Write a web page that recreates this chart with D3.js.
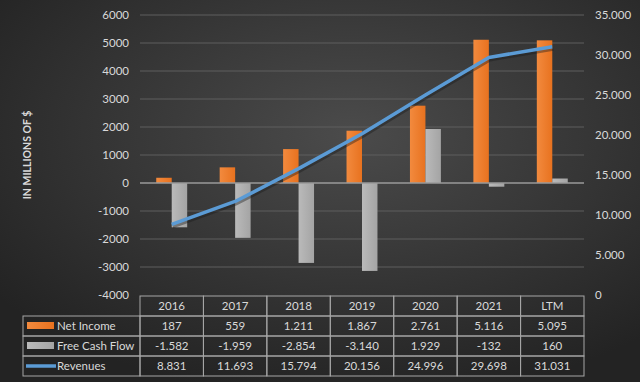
<!DOCTYPE html>
<html>
<head>
<meta charset="utf-8">
<script src="https://cdn.jsdelivr.net/npm/d3@7"></script>
<style>
  body { margin: 0; background: #2a2a2a; }
  svg text { font-family: Lato, "Open Sans", sans-serif; fill: #d9d9d9; }
</style>
</head>
<body>
<script>
// chart values
var years = ["2016", "2017", "2018", "2019", "2020", "2021", "LTM"];
var netIncome = [187, 559, 1211, 1867, 2761, 5116, 5095];
var freeCashFlow = [-1582, -1959, -2854, -3140, 1929, -132, 160];
var revenues = [8831, 11693, 15794, 20156, 24996, 29698, 31031];
var leftTicks = [-4000, -3000, -2000, -1000, 0, 1000, 2000, 3000, 4000, 5000, 6000];
var rightTicks = [0, 5000, 10000, 15000, 20000, 25000, 30000, 35000];
var seriesNames = ["Net Income", "Free Cash Flow", "Revenues"];

var width = 640, height = 382;
var plotLeft = 140, plotRight = 584, plotTop = 15, plotBottom = 295;
var rowH = 20;

var svg = d3.select("body").append("svg")
    .attr("width", width)
    .attr("height", height);

// background: dark radial gradient like the excel chart
var defs = svg.append("defs");
var bg = defs.append("radialGradient").attr("id", "bg")
    .attr("cx", "55%").attr("cy", "35%").attr("r", "70%");
bg.append("stop").attr("offset", "0%").attr("stop-color", "#4b4b4b");
bg.append("stop").attr("offset", "100%").attr("stop-color", "#232323");

var og = defs.append("linearGradient").attr("id", "orange").attr("x1", 0).attr("x2", 1);
og.append("stop").attr("offset", "0%").attr("stop-color", "#f28a3e");
og.append("stop").attr("offset", "100%").attr("stop-color", "#e8721f");
var gg = defs.append("linearGradient").attr("id", "grey").attr("x1", 0).attr("x2", 1);
gg.append("stop").attr("offset", "0%").attr("stop-color", "#bababa");
gg.append("stop").attr("offset", "100%").attr("stop-color", "#a4a4a4");

svg.append("rect").attr("width", width).attr("height", height).attr("fill", "url(#bg)");

// scales
var x = d3.scaleBand().domain(years).range([plotLeft, plotRight]);
var x1 = d3.scaleBand().domain(["ni", "fcf"]).range([0, x.bandwidth()]).paddingOuter(1.05);
var y = d3.scaleLinear().domain([-4000, 6000]).range([plotBottom, plotTop]);
var y2 = d3.scaleLinear().domain([0, 35000]).range([plotBottom, plotTop]);

// number formats: dot thousands separator, plain hyphen minus
var locale = d3.formatLocale({ decimal: ",", thousands: ".", grouping: [3], currency: ["", ""], minus: "-" });
var fmtLeft = locale.format("d");
var fmtRight = locale.format(",d");

// gridlines
svg.append("g").selectAll("line")
    .data(leftTicks.filter(function(d) { return d !== 0 && d !== -4000; }))
    .enter().append("line")
    .attr("x1", plotLeft).attr("x2", plotRight)
    .attr("y1", function(d) { return y(d); })
    .attr("y2", function(d) { return y(d); })
    .attr("stroke", "#5e5e5e").attr("stroke-width", 1);

// left axis labels
svg.append("g").selectAll("text")
    .data(leftTicks)
    .enter().append("text")
    .attr("x", 129)
    .attr("y", function(d) { return y(d); })
    .attr("dy", "0.35em")
    .attr("text-anchor", "end")
    .style("font-size", "11.5px")
    .text(function(d) { return fmtLeft(d); });

// right axis labels
svg.append("g").selectAll("text")
    .data(rightTicks)
    .enter().append("text")
    .attr("x", 595)
    .attr("y", function(d) { return y2(d); })
    .attr("dy", "0.35em")
    .style("font-size", "11.5px")
    .text(function(d) { return fmtRight(d); });

// axis title
svg.append("text")
    .attr("transform", "translate(31,155) rotate(-90)")
    .attr("text-anchor", "middle")
    .style("font-size", "10.5px")
    .style("font-weight", "bold")
    .text("IN MILLIONS OF $");

// bars
svg.append("g").selectAll("rect")
    .data(netIncome)
    .enter().append("rect")
    .attr("x", function(d, i) { return x(years[i]) + x1("ni"); })
    .attr("width", x1.bandwidth())
    .attr("y", function(d) { return y(Math.max(0, d)); })
    .attr("height", function(d) { return Math.abs(y(d) - y(0)); })
    .attr("fill", "url(#orange)");

svg.append("g").selectAll("rect")
    .data(freeCashFlow)
    .enter().append("rect")
    .attr("x", function(d, i) { return x(years[i]) + x1("fcf"); })
    .attr("width", x1.bandwidth())
    .attr("y", function(d) { return y(Math.max(0, d)); })
    .attr("height", function(d) { return Math.abs(y(d) - y(0)); })
    .attr("fill", "url(#grey)");

// zero line
svg.append("line")
    .attr("x1", plotLeft).attr("x2", plotRight)
    .attr("y1", y(0)).attr("y2", y(0))
    .attr("stroke", "#9a9a9a").attr("stroke-width", 1.5);

// revenue line on the right axis
var line = d3.line()
    .x(function(d, i) { return x(years[i]) + x.bandwidth() / 2; })
    .y(function(d) { return y2(d); });

svg.append("path")
    .datum(revenues)
    .attr("d", line)
    .attr("fill", "none")
    .attr("stroke", "#1a1a1a").attr("stroke-opacity", 0.4)
    .attr("stroke-width", 4)
    .attr("transform", "translate(1,2)");

svg.append("path")
    .datum(revenues)
    .attr("d", line)
    .attr("fill", "none")
    .attr("stroke", "#5b9bd5")
    .attr("stroke-width", 3.5)
    .attr("stroke-linejoin", "round");

// data table under the chart
var table = svg.append("g").attr("class", "table");
var tableTop = plotBottom + 1;
var legLeft = 23;
var border = "#a6a6a6";

table.selectAll(".head")
    .data(years)
    .enter().append("rect")
    .attr("x", function(d) { return x(d); })
    .attr("y", tableTop)
    .attr("width", x.bandwidth())
    .attr("height", rowH)
    .attr("fill", "none")
    .attr("stroke", border);

table.selectAll(".headText")
    .data(years)
    .enter().append("text")
    .attr("x", function(d) { return x(d) + x.bandwidth() / 2; })
    .attr("y", tableTop + rowH / 2)
    .attr("dy", "0.35em")
    .attr("text-anchor", "middle")
    .style("font-size", "11.5px")
    .text(function(d) { return d; });

var rows = [netIncome, freeCashFlow, revenues];

rows.forEach(function(vals, r) {
    var ry = tableTop + rowH * (r + 1);
    table.append("rect")
        .attr("x", legLeft).attr("y", ry)
        .attr("width", plotLeft - legLeft).attr("height", rowH)
        .attr("fill", "none").attr("stroke", border);
    table.selectAll(".cell" + r)
        .data(vals)
        .enter().append("rect")
        .attr("x", function(d, i) { return x(years[i]); })
        .attr("y", ry)
        .attr("width", x.bandwidth())
        .attr("height", rowH)
        .attr("fill", "none")
        .attr("stroke", border);
    table.selectAll(".cellText" + r)
        .data(vals)
        .enter().append("text")
        .attr("x", function(d, i) { return x(years[i]) + x.bandwidth() / 2; })
        .attr("y", ry + rowH / 2)
        .attr("dy", "0.35em")
        .attr("text-anchor", "middle")
        .style("font-size", "11.5px")
        .text(function(d) { return fmtRight(d); });

    // legend key
    if (r === 0) {
        table.append("rect").attr("x", 27).attr("y", ry + 6).attr("width", 27).attr("height", 7).attr("fill", "url(#orange)");
    } else if (r === 1) {
        table.append("rect").attr("x", 27).attr("y", ry + 6).attr("width", 27).attr("height", 7).attr("fill", "url(#grey)");
    } else {
        table.append("line").attr("x1", 26).attr("x2", 56)
            .attr("y1", ry + 10).attr("y2", ry + 10)
            .attr("stroke", "#5b9bd5").attr("stroke-width", 3.5);
    }
    table.append("text")
        .attr("x", 57)
        .attr("y", ry + rowH / 2)
        .attr("dy", "0.35em")
        .style("font-size", "11.5px")
        .text(seriesNames[r]);
});
</script>
</body>
</html>
